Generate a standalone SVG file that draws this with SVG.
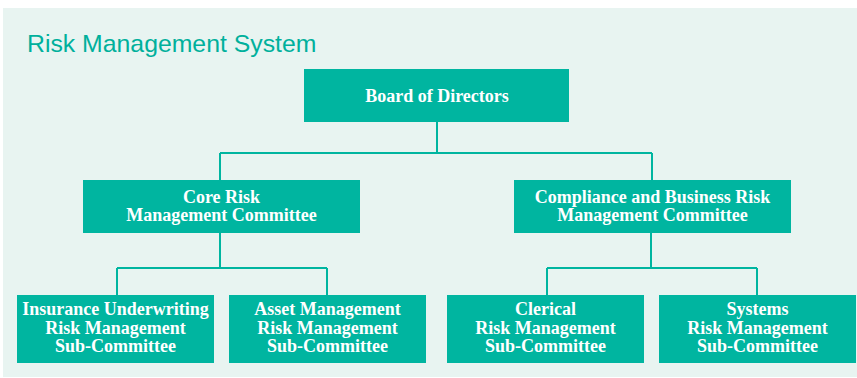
<svg xmlns="http://www.w3.org/2000/svg" width="857" height="378" viewBox="0 0 857 378">
<style>
.box{fill:#00B5A0}
.t{font-family:"Liberation Serif","Times New Roman",serif;font-weight:bold;font-size:18px;fill:#fff;text-anchor:middle}
.c{fill:none;stroke:#00B5A0;stroke-width:2}
</style>
<rect x="0" y="0" width="857" height="378" fill="#fff"/>
<rect x="3" y="8" width="854" height="369" fill="#E8F4F1"/>
<text x="27" y="52" font-family="Liberation Sans, Arial, sans-serif" font-size="24.8" fill="#00B09C">Risk Management System</text>
<g id="connectors">
<path class="c" d="M437 122V153M220 153H652M220 153V180M652 153V180"/>
<path class="c" d="M220 233V268M117 268H327M117 268V295M327 268V295"/>
<path class="c" d="M651 233V268M547 268H757M547 268V295M757 268V295"/>
</g>
<g id="board"><rect class="box" x="304" y="69" width="265" height="53"/><text class="t" x="437" y="102">Board of Directors</text></g>
<g id="core"><rect class="box" x="83" y="180" width="277" height="53"/><text class="t" x="221.5" y="203">Core Risk</text><text class="t" x="221.5" y="221">Management Committee</text></g>
<g id="compliance"><rect class="box" x="514" y="180" width="277" height="53"/><text class="t" x="652.5" y="203">Compliance and Business Risk</text><text class="t" x="652.5" y="221">Management Committee</text></g>
<g id="insurance"><rect class="box" x="17" y="295" width="197" height="68"/><text class="t" x="115.5" y="315">Insurance Underwriting</text><text class="t" x="115.5" y="333.5">Risk Management</text><text class="t" x="115.5" y="352">Sub-Committee</text></g>
<g id="asset"><rect class="box" x="229" y="295" width="197" height="68"/><text class="t" x="327.5" y="315">Asset Management</text><text class="t" x="327.5" y="333.5">Risk Management</text><text class="t" x="327.5" y="352">Sub-Committee</text></g>
<g id="clerical"><rect class="box" x="447" y="295" width="197" height="68"/><text class="t" x="545.5" y="315">Clerical</text><text class="t" x="545.5" y="333.5">Risk Management</text><text class="t" x="545.5" y="352">Sub-Committee</text></g>
<g id="systems"><rect class="box" x="659" y="295" width="197" height="68"/><text class="t" x="757.5" y="315">Systems</text><text class="t" x="757.5" y="333.5">Risk Management</text><text class="t" x="757.5" y="352">Sub-Committee</text></g>
</svg>
